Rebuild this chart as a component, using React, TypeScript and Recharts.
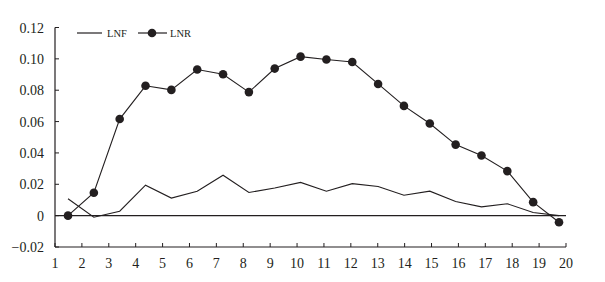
import React from "react";
import { LineChart, Line, XAxis, YAxis, ReferenceLine, Legend } from "recharts";

const idx = [1, 2, 3, 4, 5, 6, 7, 8, 9, 10, 11, 12, 13, 14, 15, 16, 17, 18, 19, 20];
const lnf = [0.0108, -0.001, 0.0028, 0.0194, 0.0112, 0.0156, 0.0258, 0.0148, 0.0176, 0.0212, 0.0156, 0.0204, 0.0186, 0.013, 0.0156, 0.009, 0.0056, 0.0076, 0.002, 0.0];
const lnr = [0.0, 0.0146, 0.0616, 0.0828, 0.0802, 0.0932, 0.0902, 0.0788, 0.0938, 0.1014, 0.0996, 0.098, 0.084, 0.070, 0.0588, 0.0453, 0.0384, 0.0284, 0.0086, -0.0042];
const xTicks = [1, 2, 3, 4, 5, 6, 7, 8, 9, 10, 11, 12, 13, 14, 15, 16, 17, 18, 19, 20];
const yTicks = [-0.02, 0, 0.02, 0.04, 0.06, 0.08, 0.1, 0.12];
const yTickLabels = ["\u22120.02", "0", "0.02", "0.04", "0.06", "0.08", "0.10", "0.12"];

const data = idx.map((i, k) => ({ i, LNF: lnf[k], LNR: lnr[k] }));

const INK = "#231f20";
const FONT = "Liberation Serif";

const YTick = (props: any) => {
  const { x, y, payload } = props;
  const k = yTicks.findIndex((t) => Math.abs(t - payload.value) < 1e-9);
  return (
    <g>
      <line x1={x} x2={x + 4} y1={y} y2={y} stroke={INK} strokeWidth={1} />
      <text x={x - 11} y={y} dy={5} textAnchor="end" fill={INK} style={{ fontFamily: FONT, fontSize: 14 }}>
        {k >= 0 ? yTickLabels[k] : payload.value}
      </text>
    </g>
  );
};

const XTick = (props: any) => {
  const { x, y, payload } = props;
  return (
    <g>
      <line x1={x} x2={x} y1={y} y2={y - 4} stroke={INK} strokeWidth={1} />
      <text x={x} y={y + 21} textAnchor="middle" fill={INK} style={{ fontFamily: FONT, fontSize: 14 }}>
        {payload.value}
      </text>
    </g>
  );
};

const LegendContent = () => (
  <svg width={130} height={14} style={{ display: "block" }}>
    <line x1={2} x2={27} y1={7} y2={7} stroke={INK} strokeWidth={1.2} />
    <text x={32} y={11} fill={INK} style={{ fontFamily: FONT, fontSize: 10.5 }}>LNF</text>
    <line x1={63} x2={92} y1={7} y2={7} stroke={INK} strokeWidth={1.2} />
    <circle cx={77} cy={7} r={4.3} fill={INK} />
    <text x={95} y={11} fill={INK} style={{ fontFamily: FONT, fontSize: 10.5 }}>LNR</text>
  </svg>
);

export default function App() {
  return (
    <div style={{ position: "absolute", left: 0, top: 0, width: 605, height: 282, background: "#fff", fontFamily: FONT }}>
      <LineChart width={605} height={282} data={data} margin={{ top: 13.5, right: 39, left: 0, bottom: 5 }}>
        <XAxis
          xAxisId={0}
          dataKey="i"
          type="number"
          domain={[1, 20]}
          ticks={xTicks}
          allowDataOverflow
          interval={0}
          height={30}
          axisLine={{ stroke: INK, strokeWidth: 1.2 }}
          tickLine={false}
          tickSize={0}
          tickMargin={0}
          tick={<XTick />}
        />
        <XAxis xAxisId="d" dataKey="i" type="number" domain={[1, 20]} padding={{ left: 13, right: 7 }} hide />
        <YAxis
          type="number"
          domain={[-0.02, 0.12]}
          ticks={yTicks}
          interval={0}
          width={55}
          axisLine={{ stroke: INK, strokeWidth: 1.2 }}
          tickLine={false}
          tickSize={0}
          tickMargin={0}
          tick={<YTick />}
        />
        <ReferenceLine y={0} xAxisId={0} stroke={INK} strokeWidth={1.2} />
        <Legend
          verticalAlign="top"
          align="left"
          content={<LegendContent />}
          wrapperStyle={{ position: "absolute", left: 75, top: 26, width: 130, height: 14 }}
        />
        <Line xAxisId="d" type="linear" dataKey="LNF" stroke={INK} strokeWidth={1.1} dot={false} isAnimationActive={false} />
        <Line
          xAxisId="d"
          type="linear"
          dataKey="LNR"
          stroke={INK}
          strokeWidth={1.1}
          dot={{ r: 4.3, fill: INK, stroke: INK, strokeWidth: 0 }}
          activeDot={false}
          isAnimationActive={false}
        />
      </LineChart>
    </div>
  );
}
